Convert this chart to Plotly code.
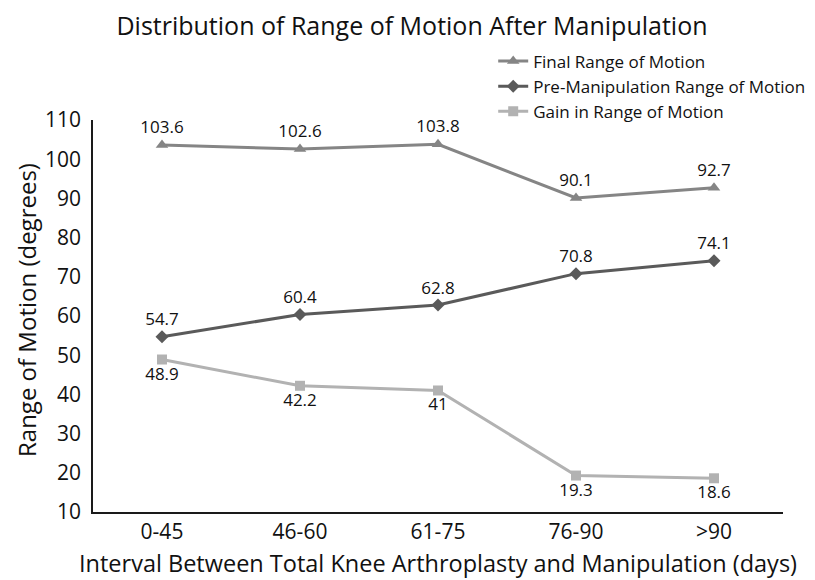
import plotly.graph_objects as go

categories = ["0-45", "46-60", "61-75", "76-90", ">90"]
final_rom = [103.6, 102.6, 103.8, 90.1, 92.7]
pre_rom = [54.7, 60.4, 62.8, 70.8, 74.1]
gain_rom = [48.9, 42.2, 41, 19.3, 18.6]

FONT = "Open Sans, Noto Sans, sans-serif"

fig = go.Figure()

def add(name, vals, color, symbol, msize, tpos):
    fig.add_trace(go.Scatter(
        x=categories, y=vals, name=name, legendgroup=name,
        mode="lines+markers+text",
        line=dict(color=color, width=3),
        marker=dict(symbol=symbol, size=msize, color=color),
        text=[f"{v:g}" for v in vals],
        textposition=tpos,
        textfont=dict(family=FONT, size=17, color="#111111"),
    ))

add("Final Range of Motion", final_rom, "#858585", "triangle-up", 11, "top center")
add("Pre-Manipulation Range of Motion", pre_rom, "#5a5a5a", "diamond", 10, "top center")
add("Gain in Range of Motion", gain_rom, "#b2b2b2", "square", 10, "bottom center")

fig.update_layout(
    width=815, height=580,
    margin=dict(l=85, r=40, t=112, b=76),
    paper_bgcolor="white", plot_bgcolor="white",
    font=dict(family=FONT, color="#111111"),
    title=dict(text="Distribution of Range of Motion After Manipulation",
               x=404/815, xanchor="center", y=1-18/580, yanchor="middle",
               font=dict(size=25, family=FONT, color="#111111")),
    legend=dict(x=0.58, y=1.195, xanchor="left", yanchor="top",
                font=dict(size=17, family=FONT, color="#111111"),
                bgcolor="rgba(0,0,0,0)", tracegroupgap=0,
                itemwidth=30),
    showlegend=True,
    annotations=[dict(
        text="Range of Motion (degrees)", textangle=-90,
        xref="paper", yref="paper", x=(18 - 85) / 690, y=(504 - 302) / 392,
        xanchor="center", yanchor="middle", showarrow=False,
        font=dict(size=24, family=FONT, color="#111111"),
    )],
)

fig.update_xaxes(
    type="category", range=[-0.5, 4.5],
    showline=True, linecolor="#1a1a1a", linewidth=1.5,
    showgrid=False, zeroline=False, ticks="",
    tickfont=dict(size=21, family=FONT, color="#111111"),
    title=dict(text="Interval Between Total Knee Arthroplasty and Manipulation (days)",
               font=dict(size=23.5, family=FONT, color="#111111"), standoff=12),
)
fig.update_yaxes(
    range=[10, 110], dtick=10, tick0=10,
    showline=True, linecolor="#1a1a1a", linewidth=1.5,
    showgrid=False, zeroline=False, ticks="", ticklabelstandoff=6,
    tickfont=dict(size=21, family=FONT, color="#111111"),
)

fig.write_html("out.html")
